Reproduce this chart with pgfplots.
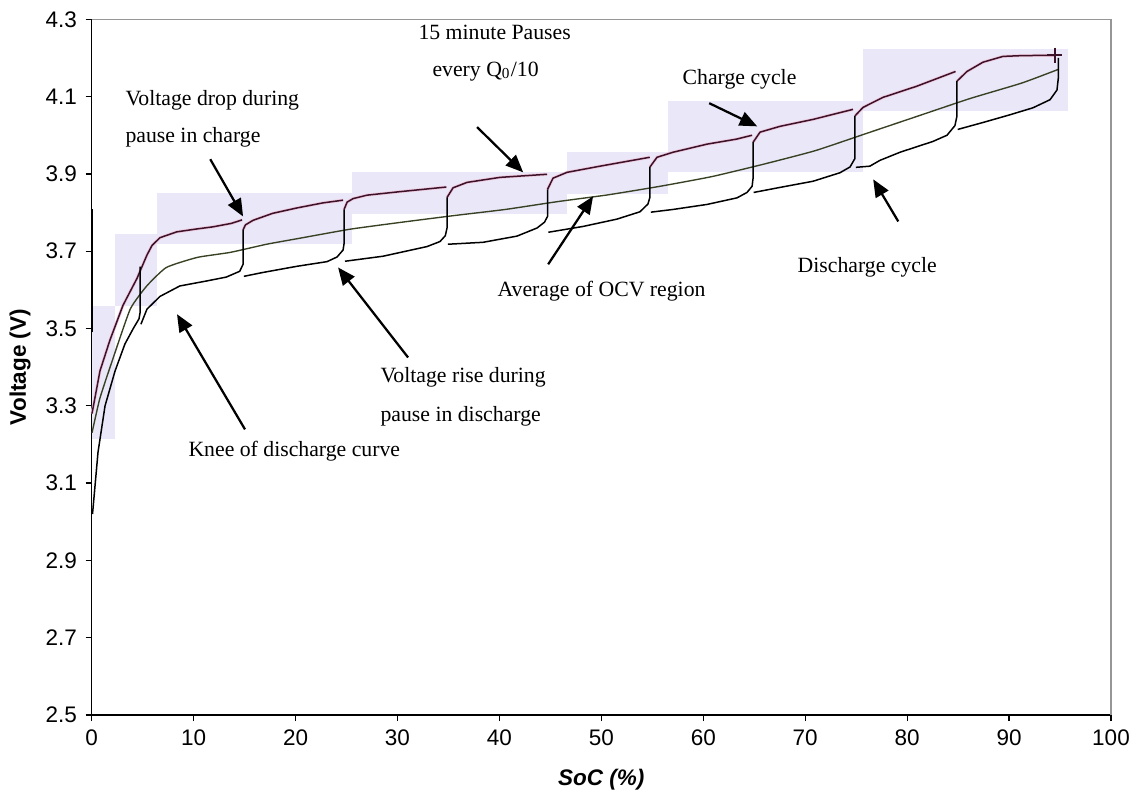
\documentclass[border=0pt]{standalone}
\usepackage{fontspec}
\setmainfont{Liberation Serif}
\setsansfont{Liberation Sans}
\usepackage{pgfplots}
\pgfplotsset{compat=1.18}
\usetikzlibrary{arrows.meta}
\definecolor{lav}{RGB}{233,231,248}
\definecolor{chg}{RGB}{60,18,40}
\definecolor{halo}{RGB}{240,200,222}
\definecolor{avgc}{RGB}{55,65,35}
\definecolor{frame}{RGB}{150,150,150}
\begin{document}
\begin{tikzpicture}
\begin{axis}[
  scale only axis, width=407.72pt, height=278.28pt,
  xmin=0, xmax=100, ymin=2.5, ymax=4.3,
  axis lines=left, axis line style={-, black, line width=0.5pt},
  xtick={0,10,20,30,40,50,60,70,80,90,100},
  ytick={2.5,2.7,2.9,3.1,3.3,3.5,3.7,3.9,4.1,4.3},
  yticklabel style={/pgf/number format/.cd, fixed, fixed zerofill, precision=1},
  /pgf/number format/assume math mode=true,
  tick align=outside, major tick length=2.4pt,
  tick style={black, line width=0.5pt},
  ticklabel style={font=\fontsize{9}{11}\selectfont\sffamily},
  ylabel={Voltage (V)},
  xlabel={SoC (\%)},
  ylabel style={at={(axis description cs:-0.0703,0.5)}, anchor=center, font=\fontsize{9}{11}\selectfont\sffamily\bfseries},
  xlabel style={at={(axis description cs:0.5,-0.0934)}, anchor=center, font=\fontsize{9}{11}\selectfont\sffamily\bfseries\itshape},
  unbounded coords=jump,
  clip=false,
]
% background highlight boxes
\addplot[draw=none, fill=lav, forget plot] coordinates {(0.03,3.213)(2.29,3.213)(2.29,3.557)(0.03,3.557)} -- cycle;
\addplot[draw=none, fill=lav, forget plot] coordinates {(2.29,3.557)(6.41,3.557)(6.41,3.744)(2.29,3.744)} -- cycle;
\addplot[draw=none, fill=lav, forget plot] coordinates {(6.41,3.718)(25.54,3.718)(25.54,3.850)(6.41,3.850)} -- cycle;
\addplot[draw=none, fill=lav, forget plot] coordinates {(25.54,3.795)(46.64,3.795)(46.64,3.904)(25.54,3.904)} -- cycle;
\addplot[draw=none, fill=lav, forget plot] coordinates {(46.64,3.847)(56.55,3.847)(56.55,3.956)(46.64,3.956)} -- cycle;
\addplot[draw=none, fill=lav, forget plot] coordinates {(56.55,3.904)(75.69,3.904)(75.69,4.088)(56.55,4.088)} -- cycle;
\addplot[draw=none, fill=lav, forget plot] coordinates {(75.69,4.062)(95.80,4.062)(95.80,4.222)(75.69,4.222)} -- cycle;

% average of OCV region
\addplot[avgc, line width=0.55pt, smooth, tension=0.3] coordinates {
(0.03,3.23) (0.81,3.32) (2.06,3.42) (3.78,3.55) (5.40,3.61) (7.33,3.658) (10.37,3.684) (13.61,3.697)
(17.16,3.718) (20.3,3.733) (25.37,3.757) (30.43,3.775) (35.5,3.792) (40.57,3.808) (45.63,3.828)
(50.7,3.846) (55.77,3.868) (60.84,3.893) (65.9,3.925) (70.97,3.96) (76.04,4.005) (81.1,4.05)
(86.17,4.095) (91.24,4.135) (94.79,4.17)};

% charge cycle (halo + line)
\pgfplotstableread{
x y
0.03 3.28
0.81 3.39
1.79 3.47
3.07 3.56
4.45 3.63
5.42 3.69
5.92 3.715
6.70 3.735
8.34 3.75
10.16 3.757
11.89 3.763
13.71 3.772
14.75 3.781
14.8 nan
14.85 3.755
15.08 3.768
15.84 3.780
17.76 3.798
20.15 3.812
22.69 3.825
24.66 3.832
24.7 nan
24.76 3.808
25.06 3.827
25.64 3.836
27.01 3.845
30.23 3.854
34.79 3.866
34.8 nan
34.86 3.839
35.45 3.864
36.82 3.878
40.06 3.891
44.67 3.899
44.7 nan
44.72 3.860
45.26 3.889
46.63 3.904
49.87 3.920
54.75 3.943
54.76 nan
54.77 3.918
55.46 3.943
57.03 3.956
60.37 3.977
63.27 3.990
64.79 4.000
64.8 nan
64.89 3.982
65.57 4.008
67.52 4.023
70.77 4.041
74.69 4.067
74.7 nan
74.88 4.050
75.67 4.072
77.63 4.098
80.96 4.127
84.75 4.165
84.8 nan
84.89 4.140
85.87 4.165
87.44 4.189
89.40 4.204
91.24 4.206
94.50 4.207
}\chargetab
\addplot[halo, line width=1.2pt, forget plot] table {\chargetab};
\addplot[chg, line width=0.6pt] table {\chargetab};
\addplot[chg, line width=0.6pt, only marks, mark=+, mark size=3pt, forget plot] coordinates {(94.5,4.207)};

% discharge cycle
\addplot[black, line width=0.6pt] coordinates {
(0.08,3.02) (0.62,3.18) (1.31,3.30) (2.29,3.39) (3.26,3.46) (4.08,3.50) (4.64,3.525) (4.74,3.54) (4.74,3.66)
(4.8,nan)
(4.83,3.511) (5.42,3.55) (6.70,3.583) (8.64,3.61) (11.28,3.623) (13.2,3.633) (14.52,3.648) (14.85,3.666) (14.85,3.755)
(14.9,nan)
(14.93,3.635) (16.8,3.645) (20.15,3.661) (23.09,3.673) (24.07,3.685) (24.66,3.703) (24.76,3.72) (24.76,3.808)
(24.8,nan)
(24.85,3.674) (28.58,3.687) (32.9,3.712) (34.17,3.725) (34.69,3.74) (34.86,3.76) (34.86,3.839)
(34.9,nan)
(34.94,3.718) (38.39,3.723) (41.72,3.739) (43.69,3.760) (44.42,3.775) (44.72,3.79) (44.72,3.860)
(44.75,nan)
(44.8,3.749) (48.2,3.764) (51.53,3.783) (53.79,3.802) (54.57,3.822) (54.77,3.84) (54.77,3.918)
(54.8,nan)
(54.86,3.801) (57.03,3.808) (60.37,3.821) (63.31,3.838) (64.29,3.852) (64.79,3.868) (64.89,3.89) (64.89,3.982)
(64.9,nan)
(64.94,3.852) (67.52,3.865) (70.77,3.881) (73.41,3.903) (74.4,3.918) (74.88,3.94) (74.88,4.050)
(74.9,nan)
(74.97,3.917) (76.34,3.92) (77.33,3.935) (79.3,3.956) (82.53,3.984) (83.91,4.0) (84.69,4.025) (84.89,4.05) (84.89,4.140)
(84.92,nan)
(84.96,4.015) (87.44,4.033) (90.09,4.053) (92.34,4.071) (94.02,4.092) (94.7,4.117) (94.84,4.15) (94.84,4.20)
};
\addplot[black, line width=0.6pt, forget plot] coordinates {(0.1,3.49) (0.1,3.81)};

% frame top/right
\draw[frame, line width=0.5pt] (axis description cs:0,1) -- (axis description cs:1,1) -- (axis description cs:1,0);

% annotations
\begin{scope}[every node/.style={font=\fontsize{8.7}{10}\selectfont\rmfamily, inner sep=0pt, anchor=west}]
\node at (axis cs:3.27,4.090) {Voltage drop during};
\node at (axis cs:3.27,3.994) {pause in charge};
\node at (axis cs:32.02,4.266) {15 minute Pauses};
\node at (axis cs:33.39,4.165) {every Q\textsubscript{0}/10};
\node at (axis cs:57.93,4.145) {Charge cycle};
\node at (axis cs:69.21,3.658) {Discharge cycle};
\node at (axis cs:39.77,3.596) {Average of OCV region};
\node at (axis cs:28.29,3.373) {Voltage rise during};
\node at (axis cs:28.29,3.272) {pause in discharge};
\node at (axis cs:9.45,3.182) {Knee of discharge curve};
\end{scope}
\begin{scope}[line width=0.9pt, -{Triangle[length=7pt,width=5.8pt]}]
\draw (axis cs:11.63,3.938) -- (axis cs:14.85,3.790);
\draw (axis cs:37.81,4.021) -- (axis cs:42.33,3.904);
\draw (axis cs:60.58,4.083) -- (axis cs:65.29,4.023);
\draw (axis cs:79.13,3.777) -- (axis cs:76.67,3.886);
\draw (axis cs:44.78,3.666) -- (axis cs:49.19,3.842);
\draw (axis cs:31.04,3.425) -- (axis cs:24.17,3.658);
\draw (axis cs:15.04,3.239) -- (axis cs:8.37,3.537);
\end{scope}
\end{axis}
\pgfresetboundingbox
\path (-36.68pt,-32.4pt) rectangle (421.32pt,286pt);
\end{tikzpicture}
\end{document}
